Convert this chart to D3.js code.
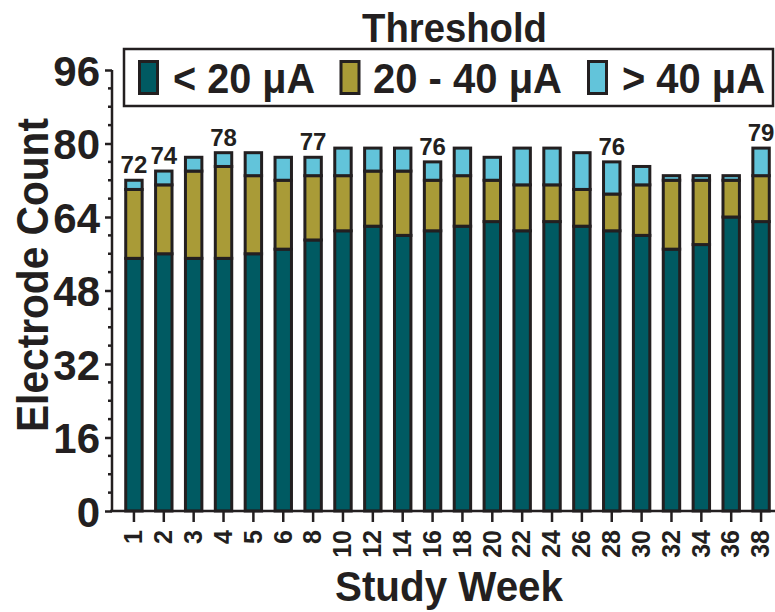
<!DOCTYPE html>
<html lang="en">
<head>
    <meta charset="UTF-8">
    <title>Electrode Count by Study Week</title>
    <style>
        body { margin: 0; background: #fff; }
        svg { display: block; font-family: "Liberation Sans", Arial, sans-serif; font-weight: bold; }
    </style>
</head>
<body>
    <div id="chart"></div>

    <script src="https://d3js.org/d3.v7.min.js"></script>
    <script>
        const w = 775;
        const h = 612;

        // values
        const weeks = [1, 2, 3, 4, 5, 6, 8, 10, 12, 14, 16, 18, 20, 22, 24, 26, 28, 30, 32, 34, 36, 38];
        const below20 = [55, 56, 55, 55, 56, 57, 59, 61, 62, 60, 61, 62, 63, 61, 63, 62, 61, 60, 57, 58, 64, 63];
        const from20to40 = [15, 15, 19, 20, 17, 15, 14, 12, 12, 14, 11, 11, 9, 10, 8, 8, 8, 11, 15, 14, 8, 10];
        const above40 = [2, 3, 3, 3, 5, 5, 4, 6, 5, 5, 4, 6, 5, 8, 8, 8, 7, 4, 1, 1, 1, 6];

        const seriesNames = ['< 20 μA', '20 - 40 μA', '> 40 μA'];
        const seriesColors = ['#005a62', '#a99b37', '#62c4da'];

        // totals printed above some bars
        const labelWeeks = [1, 2, 4, 8, 16, 28, 38];
        const labelTexts = ['72', '74', '78', '77', '76', '76', '79'];

        const yTicks = [0, 16, 32, 48, 64, 80, 96];
        const ink = '#231f20';

        const rows = weeks.map((wk, i) => ({
            week: wk,
            s0: below20[i],
            s1: from20to40[i],
            s2: above40[i]
        }));

        const stacked = d3.stack().keys(['s0', 's1', 's2'])(rows);

        const xScale = d3.scaleBand()
            .domain(weeks)
            .range([119, 776])
            .paddingInner(0.45)
            .paddingOuter(0.225);

        const yScale = d3.scaleLinear()
            .domain([0, 96])
            .range([511, 70]);

        const svg = d3.select('#chart')
            .append('svg')
            .attr('width', w)
            .attr('height', h);

        // bars
        svg.append('g')
            .selectAll('g')
            .data(stacked)
            .enter()
            .append('g')
            .attr('fill', (d, i) => seriesColors[i])
            .selectAll('rect')
            .data(d => d)
            .enter()
            .append('rect')
            .attr('x', d => xScale(d.data.week))
            .attr('y', d => yScale(d[1]))
            .attr('width', xScale.bandwidth())
            .attr('height', d => yScale(d[0]) - yScale(d[1]))
            .attr('stroke', ink)
            .attr('stroke-width', 3);

        // totals over selected bars
        const topLayer = stacked[stacked.length - 1];
        svg.append('g')
            .selectAll('text')
            .data(labelWeeks)
            .enter()
            .append('text')
            .attr('x', wk => xScale(wk) + xScale.bandwidth() / 2)
            .attr('y', wk => yScale(topLayer[weeks.indexOf(wk)][1]) - 7)
            .attr('text-anchor', 'middle')
            .attr('font-size', 24)
            .attr('fill', ink)
            .text((wk, i) => labelTexts[i]);

        // y axis with minor ticks every 4
        const yAxis = d3.axisLeft(yScale)
            .tickValues(yTicks)
            .tickSize(7)
            .tickPadding(5);
        const gy = svg.append('g')
            .attr('transform', 'translate(112,0)')
            .call(yAxis);
        gy.selectAll('.tick text')
            .attr('font-size', 42)
            .attr('font-family', '"Liberation Sans", Arial, sans-serif')
            .attr('font-weight', 'bold')
            .attr('fill', ink)
            .attr('dy', '0.36em');
        gy.append('g')
            .selectAll('line')
            .data(d3.range(0, 97, 4).filter(v => v % 16 !== 0))
            .enter()
            .append('line')
            .attr('x1', -4)
            .attr('x2', 0)
            .attr('y1', d => yScale(d))
            .attr('y2', d => yScale(d))
            .attr('stroke', ink)
            .attr('stroke-width', 2.5);

        // x axis
        const xAxis = d3.axisBottom(xScale)
            .tickSize(11)
            .tickPadding(0);
        const gx = svg.append('g')
            .attr('transform', 'translate(0,511)')
            .call(xAxis);
        gx.select('.domain').attr('d', 'M110,0H780');
        gx.selectAll('.tick text')
            .attr('font-size', 25)
            .attr('font-family', '"Liberation Sans", Arial, sans-serif')
            .attr('font-weight', 'bold')
            .attr('fill', ink)
            .attr('text-anchor', 'end')
            .attr('transform', 'rotate(-90)')
            .attr('x', -19)
            .attr('y', 0)
            .attr('dy', '0.33em');

        svg.selectAll('.domain, .tick line')
            .attr('stroke', ink)
            .attr('stroke-width', 2.5);
        gy.select('.domain').attr('d', 'M0,70V511');

        // axis titles
        svg.append('text')
            .attr('x', 335)
            .attr('y', 601)
            .attr('font-size', 42)
            .attr('textLength', 228)
            .attr('lengthAdjust', 'spacingAndGlyphs')
            .attr('fill', ink)
            .text('Study Week');

        svg.append('text')
            .attr('transform', 'translate(48,275) rotate(-90)')
            .attr('text-anchor', 'middle')
            .attr('font-size', 44)
            .attr('textLength', 314)
            .attr('lengthAdjust', 'spacingAndGlyphs')
            .attr('fill', ink)
            .text('Electrode Count');

        // legend
        svg.append('text')
            .attr('x', 362)
            .attr('y', 42)
            .attr('font-size', 40)
            .attr('textLength', 185)
            .attr('lengthAdjust', 'spacingAndGlyphs')
            .attr('fill', ink)
            .text('Threshold');

        svg.append('rect')
            .attr('x', 124)
            .attr('y', 49)
            .attr('width', 649)
            .attr('height', 57)
            .attr('fill', 'none')
            .attr('stroke', ink)
            .attr('stroke-width', 2.5);

        const swatchX = [139.5, 341, 588.5];
        const labelX = [173, 373, 622];
        const labelW = [142, 189, 143];

        const legend = svg.append('g')
            .selectAll('g')
            .data(seriesNames)
            .enter()
            .append('g');
        legend.append('rect')
            .attr('x', (d, i) => swatchX[i])
            .attr('y', 61.5)
            .attr('width', 18)
            .attr('height', 32)
            .attr('fill', (d, i) => seriesColors[i])
            .attr('stroke', ink)
            .attr('stroke-width', 3);
        legend.append('text')
            .attr('x', (d, i) => labelX[i])
            .attr('y', 93)
            .attr('font-size', 43)
            .attr('textLength', (d, i) => labelW[i])
            .attr('lengthAdjust', 'spacingAndGlyphs')
            .attr('fill', ink)
            .text(d => d);
    </script>
</body>
</html>
